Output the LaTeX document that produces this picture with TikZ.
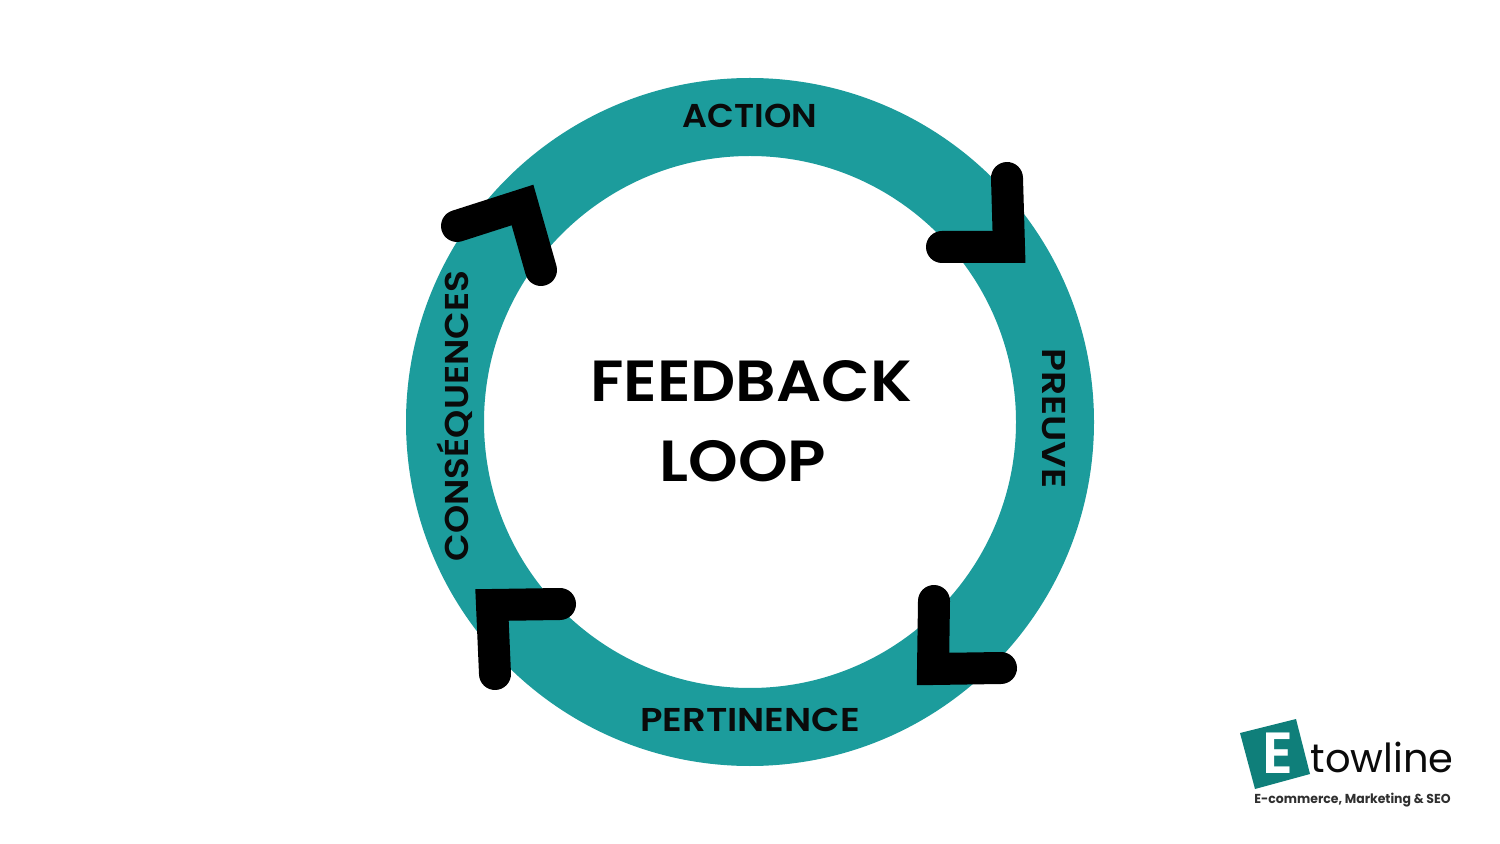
\documentclass[tikz,border=0pt]{standalone}
\usepackage{fontspec}
\usepackage{graphicx}
\setmainfont{Poppins}[BoldFont=* SemiBold]
\newfontfamily\logofont{Poppins}
\definecolor{ringteal}{HTML}{1C9C9C}
\definecolor{logoteal}{HTML}{0F7F7A}
\definecolor{ink}{HTML}{0A0A0A}
\tikzset{
  chevron/.style={draw=black,line width=16pt,line cap=round,line join=miter,miter limit=10},
  ringlabel/.style={font=\bfseries\fontsize{16.5}{18}\selectfont,text=ink,inner sep=0pt},
  titletext/.style={font=\bfseries\fontsize{29}{40}\selectfont,text=black,inner sep=0pt},
}
\begin{document}
\begin{tikzpicture}[x=0.5pt,y=-0.5pt]
\useasboundingbox (0,0) rectangle (1500,844);
\fill[white] (0,0) rectangle (1500,844);
\draw[ringteal,line width=39pt] (750,422) circle [radius=305];
\draw[chevron] (1007,178) -- (1009,247) -- (942,247);
\draw[chevron] (934,601) -- (933,669) -- (1001,668);
\draw[chevron] (560,604) -- (492,605) -- (495,674);
\draw[chevron] (457,226) -- (522.5,205) -- (541,270);
\node[ringlabel] (action) at (750,116) {\scalebox{1.055}[1]{ACTION}};
\node[ringlabel,rotate=-90] (preuve) at (1054,418.5) {\scalebox{1.14}[1]{PREUVE}};
\node[ringlabel] (pertinence) at (750,720) {\scalebox{1.12}[1]{PERTINENCE}};
\node[ringlabel,rotate=90] (cons) at (455,416) {\scalebox{1.087}[1]{CONSÉQUENCES}};
\node[titletext] (feedback) at (751,381) {\scalebox{1.088}[1]{FEEDBACK}};
\node[titletext] (loop) at (743,461) {\scalebox{1.09}[1]{LOOP}};
\fill[logoteal] (1240,733) -- (1296,719) -- (1310,774) -- (1255,789) -- cycle;
\node[font=\bfseries\fontsize{29}{30}\selectfont,text=white,inner sep=0pt] (logoe) at (1278,753) {E};
\node[font=\logofont\fontsize{20}{22}\selectfont,text=ink,inner sep=0pt] (towline) at (1382,757) {towline};
\node[font=\logofont\fontsize{6.5}{8}\selectfont\bfseries,text=ink!85,inner sep=0pt] (tag) at (1352.5,800) {\scalebox{0.96}[1]{E-commerce, Marketing \& SEO}};
\end{tikzpicture}
\end{document}
